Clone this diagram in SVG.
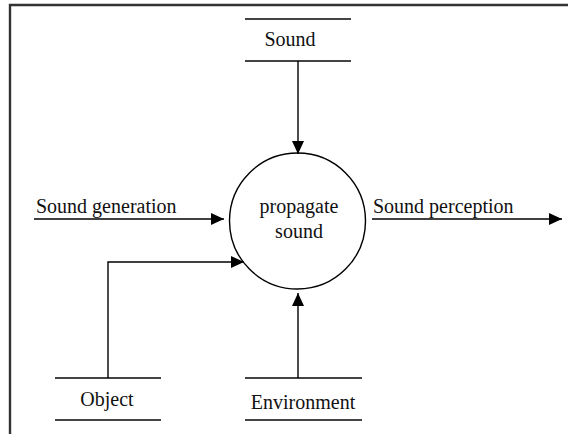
<svg xmlns="http://www.w3.org/2000/svg" width="568" height="434" viewBox="0 0 568 434">
  <style>
    .lbl { font-family: "Liberation Serif", "Times New Roman", serif; font-size: 20px; fill: #111; }
    .mid { text-anchor: middle; }
    .store { stroke: #444; stroke-width: 2; }
    .flow { fill: none; stroke: #000; stroke-width: 1.4; }
    .frame { stroke: #333; stroke-width: 2.4; fill: none; }
  </style>
  <defs>
    <marker id="arrow" viewBox="0 0 13 12" refX="13" refY="6" markerWidth="13" markerHeight="12" markerUnits="userSpaceOnUse" orient="auto">
      <path d="M0,0 L13,6 L0,12 Z" fill="#000"/>
    </marker>
  </defs>
  <rect width="568" height="434" fill="#fff"/>

  <!-- frame -->
  <polyline class="frame" points="10,434 10,5 568,5"/>

  <!-- process bubble -->
  <g id="propagate-sound">
    <circle cx="297.5" cy="221" r="68" fill="none" stroke="#000" stroke-width="1.4"/>
    <text class="lbl mid" x="299" y="213">propagate</text>
    <text class="lbl mid" x="299" y="238">sound</text>
  </g>

  <!-- data stores -->
  <g id="store-sound">
    <line class="store" x1="245" y1="19" x2="351" y2="19"/>
    <line class="store" x1="245" y1="61" x2="351" y2="61"/>
    <text class="lbl mid" x="290" y="46">Sound</text>
  </g>
  <g id="store-object">
    <line class="store" x1="55" y1="378" x2="161" y2="378"/>
    <line class="store" x1="55" y1="420" x2="161" y2="420"/>
    <text class="lbl mid" x="107" y="406">Object</text>
  </g>
  <g id="store-environment">
    <line class="store" x1="245" y1="378" x2="362" y2="378"/>
    <line class="store" x1="245" y1="420" x2="362" y2="420"/>
    <text class="lbl mid" x="303" y="409">Environment</text>
  </g>

  <!-- connectors -->
  <g id="connectors">
    <line class="flow" x1="298" y1="61" x2="298" y2="154" marker-end="url(#arrow)"/>
    <line class="flow" x1="34" y1="219" x2="224" y2="219" marker-end="url(#arrow)"/>
    <line class="flow" x1="372" y1="219" x2="562" y2="219" marker-end="url(#arrow)"/>
    <polyline class="flow" points="108,378 108,262 244,262" marker-end="url(#arrow)"/>
    <line class="flow" x1="298" y1="378" x2="298" y2="293" marker-end="url(#arrow)"/>
    <text class="lbl" x="36" y="213">Sound generation</text>
    <text class="lbl" x="373" y="213">Sound perception</text>
  </g>
</svg>
